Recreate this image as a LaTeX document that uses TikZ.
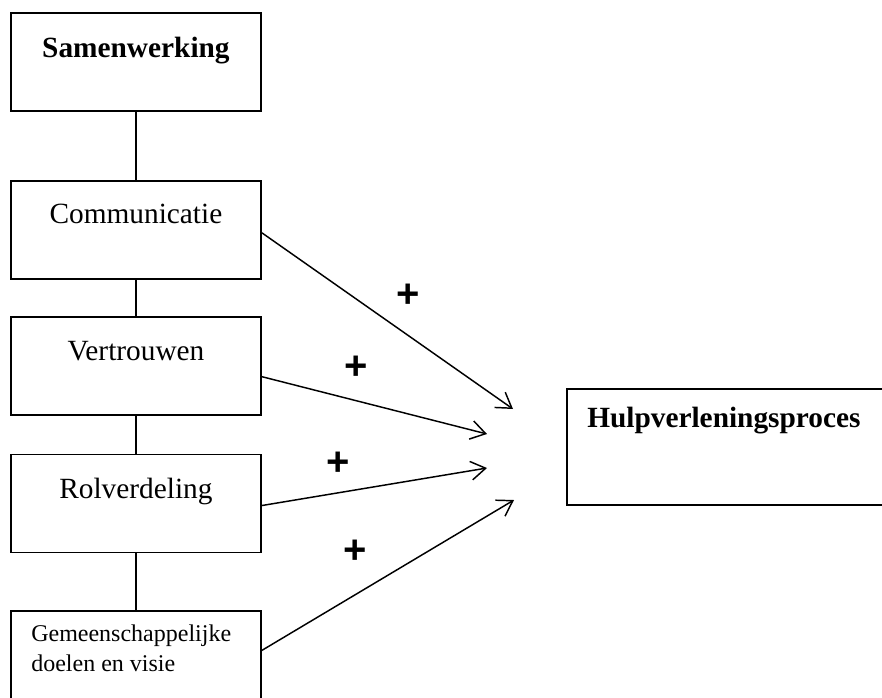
\documentclass[tikz,border=0pt]{standalone}
\usepackage{fontspec}
\setmainfont{Liberation Serif}
\newfontfamily\plusfont{Liberation Sans}
\usetikzlibrary{positioning,arrows.meta}
\tikzset{
  x=0.75pt,y=-0.75pt,
  blok/.style={draw=black,line width=1.4pt,minimum width=187.5pt,
    minimum height=73.5pt,inner sep=0pt,anchor=north west},
  bloktxt/.style={font=\fontsize{22}{26}\selectfont,inner sep=0pt,anchor=base},
  kleintxt/.style={font=\fontsize{18}{22.5}\selectfont,inner sep=0pt,
    align=left,anchor=north west},
  verbind/.style={line width=1.2pt},
  invloed/.style={-{Straight Barb[length=11pt,width=14pt]},line width=1.1pt},
  plus/.style={font=\fontsize{30}{32}\selectfont\plusfont\bfseries,inner sep=0pt},
}
\begin{document}
\begin{tikzpicture}
  \useasboundingbox (0,0) rectangle (882,697);
  % linker kolom
  \node[blok] (samen) at (10,12) {};
  \node[blok,below=51pt of samen] (comm) {};
  \node[blok,below=27pt of comm] (vertr) {};
  \node[blok,below=28.5pt of vertr] (rol) {};
  \node[blok,below=42.75pt of rol] (gem) {};
  \node[bloktxt,font=\fontsize{22}{26}\selectfont\bfseries] (samen-t)
    at ([yshift=-33.75pt]samen.north) {Samenwerking};
  \node[bloktxt] (comm-t) at ([yshift=-33pt]comm.north) {Communicatie};
  \node[bloktxt] (vertr-t) at ([yshift=-33.75pt]vertr.north) {Vertrouwen};
  \node[bloktxt] (rol-t) at ([yshift=-33.75pt]rol.north) {Rolverdeling};
  \node[kleintxt] (gem-t) at ([xshift=15.75pt,yshift=-10.75pt]gem.north west)
    {Gemeenschappelijke\\doelen en visie};
  \draw[verbind] (samen) -- (comm);
  \draw[verbind] (comm) -- (vertr);
  \draw[verbind] (vertr) -- (rol);
  \draw[verbind] (rol) -- (gem);
  % rechter blok
  \node[blok,minimum width=243pt,minimum height=87pt] (hulp) at (566,388) {};
  \node[bloktxt,anchor=base west,font=\fontsize{22}{26}\selectfont\bfseries]
    (hulp-t) at ([xshift=15.75pt,yshift=-29.25pt]hulp.north west)
    {Hulpverleningsproces};
  % pijlen
  \coordinate (tip1) at (513,409);
  \coordinate (tip2) at (487,434);
  \coordinate (tip3) at (487,468);
  \coordinate (tip4) at (514,500);
  \draw[invloed] ([yshift=-2.25pt]comm.east) -- (tip1);
  \draw[invloed] ([yshift=-8.25pt]vertr.east) -- (tip2);
  \draw[invloed] ([yshift=-1.5pt]rol.east) -- (tip3);
  \draw[invloed] ([yshift=7.5pt]gem.east) -- (tip4);
  \node[plus] (p1) at (408,296) {+};
  \node[plus] (p2) at (356,368) {+};
  \node[plus] (p3) at (338,464) {+};
  \node[plus] (p4) at (355,552) {+};
\end{tikzpicture}
\end{document}
